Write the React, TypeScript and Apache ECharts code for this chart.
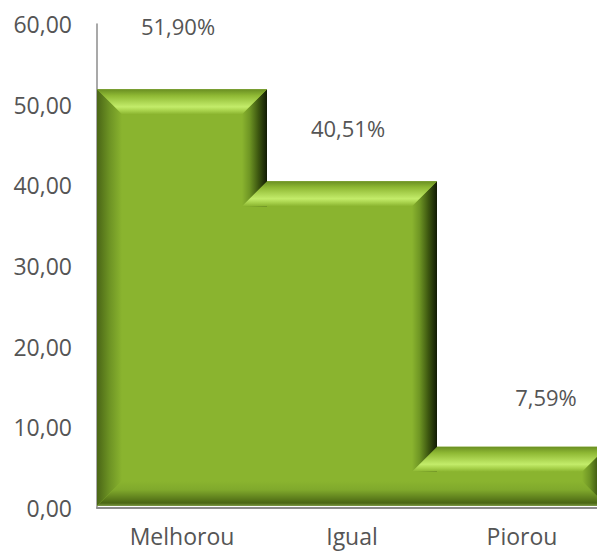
import React, { useEffect, useRef } from "react";
import * as echarts from "echarts";

const categories = ["Melhorou", "Igual", "Piorou"];
const values = [51.9, 40.51, 7.59];
const valueLabels = ["51,90%", "40,51%", "7,59%"];
const yTicks = { min: 0, max: 60, interval: 10 };

const labelOffsets = [
  [-4, -63],
  [-4, -53],
  [24, -50],
];

const FONT = "'Open Sans', Carlito, Calibri, sans-serif";
const FACE = "#8ab42f";
const BEVEL = 25;

function lin(x0: number, y0: number, x1: number, y1: number, stops: [number, string][]) {
  return new echarts.graphic.LinearGradient(
    x0,
    y0,
    x1,
    y1,
    stops.map(([offset, color]) => ({ offset, color }))
  );
}

export default function App() {
  const ref = useRef<HTMLDivElement>(null);
  useEffect(() => {
    if (!ref.current) return;
    const chart = echarts.init(ref.current, null, { renderer: "svg" });
    const renderItem = (params: any, api: any) => {
      const i = params.dataIndex;
      const v = api.value(1);
      const c = api.coord([i, v]);
      const base = api.coord([i, 0]);
      const w = api.size([1, 0])[0];
      const b = BEVEL;
      const x0 = c[0] - w / 2;
      const x1 = c[0] + w / 2;
      const yT = c[1];
      const y0 = base[1] - 2;
      const first = i === 0;
      const xl = first ? x0 + b : x0 - b;
      const children: any[] = [];
      children.push({
        type: "rect",
        shape: { x: x0, y: yT, width: w, height: y0 - yT },
        style: { fill: FACE },
      });
      children.push({
        type: "polygon",
        shape: {
          points: [
            [xl, yT + b],
            [x1 - b, yT + b],
            [x1 - b, y0 - b],
            [xl, y0 - b],
          ],
        },
        style: { fill: FACE },
      });
      if (first) {
        children.push({
          type: "polygon",
          shape: {
            points: [
              [x0, yT],
              [x0 + b, yT + b],
              [x0 + b, y0 - b],
              [x0, y0],
            ],
          },
          style: {
            fill: lin(0, 0, 1, 0, [
              [0, "#4a6616"],
              [0.5, "#6d9324"],
              [1, FACE],
            ]),
          },
        });
      }
      children.push({
        type: "polygon",
        shape: {
          points: first
            ? [
                [x0 + b, y0 - b],
                [x1 - b, y0 - b],
                [x1, y0],
                [x0, y0],
              ]
            : [
                [x0 - b, y0 - b],
                [x1 - b, y0 - b],
                [x1, y0],
                [x0 - b, y0],
              ],
        },
        style: {
          fill: lin(0, 0, 0, 1, [
            [0, FACE],
            [0.35, "#80a92c"],
            [0.7, "#5d7e1c"],
            [0.88, "#4a6614"],
            [1, "#7d9a45"],
          ]),
        },
      });
      children.push({
        type: "polygon",
        shape: {
          points: [
            [x1, yT],
            [x1, y0],
            [x1 - b, y0 - b],
            [x1 - b, yT + b],
          ],
        },
        style: {
          fill: lin(0, 0, 1, 0, [
            [0, FACE],
            [0.3, "#6f9624"],
            [0.65, "#3d5710"],
            [1, "#111a04"],
          ]),
        },
      });
      children.push({
        type: "polygon",
        shape: {
          points: [
            [x0, yT],
            [x1, yT],
            [x1 - b, yT + b],
            [xl, yT + b],
          ],
        },
        style: {
          fill: lin(0, 0, 0, 1, [
            [0, "#6a8f22"],
            [0.25, "#8fb934"],
            [0.7, "#c3ec6a"],
            [0.85, "#a8d24c"],
            [1, FACE],
          ]),
        },
      });
      const off = labelOffsets[i];
      children.push({
        type: "text",
        x: c[0] + off[0],
        y: yT + off[1],
        style: {
          text: valueLabels[i],
          fill: "#555555",
          font: `22px ${FONT}`,
          align: "center",
          verticalAlign: "middle",
        },
        z2: 10,
      });
      return { type: "group", children };
    };

    chart.setOption({
      animation: false,
      grid: { left: 97, right: 13, top: 24, bottom: 47 },
      xAxis: {
        type: "category",
        data: categories,
        axisTick: { show: false },
        axisLine: { show: true, lineStyle: { color: "#8c8c8c", width: 2 } },
        axisLabel: {
          color: "#555555",
          fontSize: 23,
          fontFamily: FONT,
          margin: 16,
        },
      },
      yAxis: {
        type: "value",
        min: yTicks.min,
        max: yTicks.max,
        interval: yTicks.interval,
        splitLine: { show: false },
        axisTick: { show: false },
        axisLine: { show: true, lineStyle: { color: "#8c8c8c", width: 1.5 } },
        axisLabel: {
          color: "#555555",
          fontSize: 23,
          fontFamily: FONT,
          margin: 25,
          formatter: (v: number) => v.toFixed(2).replace(".", ","),
        },
      },
      series: [
        {
          type: "custom",
          renderItem,
          data: values.map((v, i) => [i, v]),
          encode: { x: 0, y: 1 },
          clip: false,
        },
      ],
    });
    return () => chart.dispose();
  }, []);
  return (
    <div
      style={{
        position: "fixed",
        left: 0,
        top: 0,
        width: 597,
        height: 555,
        overflow: "hidden",
        background: "#fff",
      }}
    >
      <div ref={ref} style={{ width: 620, height: 555 }} />
    </div>
  );
}
